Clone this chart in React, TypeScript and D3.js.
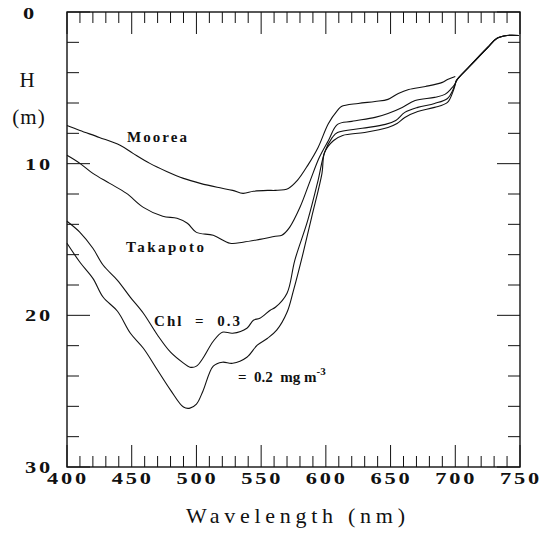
import React from 'react';
import * as d3 from 'd3';

// wavelength (nm) / depth H (m)
const mooreaWl = [400, 410, 425, 441, 451, 464, 477, 490, 503, 516, 528, 536, 544, 555, 561, 571, 578, 586, 594, 602, 609, 612, 625, 638, 648, 656, 664, 677, 690, 694, 700];
const mooreaH = [7.48, 7.81, 8.27, 8.79, 9.32, 9.98, 10.51, 10.97, 11.3, 11.56, 11.76, 11.96, 11.82, 11.76, 11.76, 11.63, 11.1, 10.11, 8.93, 7.35, 6.49, 6.23, 6.03, 5.9, 5.76, 5.37, 5.11, 4.91, 4.64, 4.45, 4.25];

const takapotoWl = [400, 410, 420, 433, 446, 459, 474, 485, 493, 500, 513, 526, 536, 549, 561, 566, 572, 580, 588, 595, 602, 609, 620, 638, 648, 659, 669, 684, 692, 697, 700];
const takapotoH = [9.45, 9.98, 10.64, 11.3, 11.96, 12.88, 13.47, 13.6, 13.93, 14.53, 14.72, 15.25, 15.18, 14.99, 14.79, 14.72, 14.2, 12.88, 11.1, 9.58, 8.47, 7.41, 7.21, 6.95, 6.69, 6.29, 5.83, 5.63, 5.43, 5.04, 4.71];

const chl03Wl = [400, 410, 420, 428, 439, 449, 459, 470, 480, 490, 495, 500, 505, 513, 520, 528, 539, 544, 549, 557, 561, 570, 576, 586, 594, 599, 605, 609, 628, 646, 654, 661, 671, 684, 694, 698, 700];
const chl03H = [13.8, 14.53, 15.58, 16.7, 17.69, 18.81, 19.86, 21.31, 22.43, 23.15, 23.42, 23.35, 22.83, 21.71, 21.11, 21.18, 20.85, 20.32, 20.19, 19.66, 19.47, 18.54, 16.37, 13.74, 11.1, 9.26, 8.27, 7.94, 7.67, 7.41, 7.15, 6.62, 6.29, 6.03, 5.7, 5.17, 4.71];

const chl02Wl = [400, 410, 420, 428, 439, 449, 459, 470, 480, 490, 495, 500, 505, 513, 520, 528, 539, 547, 555, 562, 570, 575, 582, 589, 597, 599, 606, 613, 630, 648, 655, 661, 671, 684, 694, 698, 700];
const chl02H = [15.25, 16.5, 17.56, 18.81, 19.73, 21.18, 22.17, 23.62, 24.93, 26.05, 26.12, 25.86, 25.0, 23.35, 23.09, 23.16, 22.76, 21.97, 21.51, 20.98, 19.8, 18.35, 16.04, 13.54, 10.64, 9.26, 8.47, 8.14, 7.94, 7.61, 7.35, 6.95, 6.56, 6.29, 5.96, 5.3, 4.78];

// common red end, where the three lower curves merge
const tailWl = [701, 711, 725, 732, 740, 749];
const tailH = [4.51, 3.59, 2.34, 1.75, 1.55, 1.55];

const xTickLabels = [400, 450, 500, 550, 600, 650, 700, 750];
const yTickLabels = [10, 20, 30];

const W = 550;
const H = 533;
const left = 67, right = 520, top = 12, bottom = 467;

const serif = 'Liberation Serif, Times New Roman, serif';

// wide plotter-style digits: serif bold stretched sideways
const WideText = ({ x, y, anchor = 'middle', size = 16, sx = 1.4, spacing = 2, children }: any) => (
  <text transform={`translate(${x},${y}) scale(${sx},1)`} textAnchor={anchor}
    style={{ fontFamily: serif, fontWeight: 'bold', fontSize: size, letterSpacing: spacing }} fill="#111">
    {children}
  </text>
);

const App = () => {
  const x = d3.scaleLinear().domain([400, 750]).range([left, right]);
  const y = d3.scaleLinear().domain([0, 30]).range([top, bottom]);

  const line = d3.line<[number, number]>()
    .x(d => x(d[0]))
    .y(d => y(d[1]))
    .curve(d3.curveCatmullRom.alpha(0.5));

  const zip = (a: number[], b: number[]) => a.map((v, i) => [v, b[i]] as [number, number]);
  const tail = zip(tailWl, tailH);

  const curves = [
    zip(mooreaWl, mooreaH),
    zip(takapotoWl, takapotoH).concat(tail),
    zip(chl03Wl, chl03H).concat(tail),
    zip(chl02Wl, chl02H).concat(tail),
  ];

  const xTicks = d3.range(400, 751, 10);
  const yTicks = d3.range(0, 31, 2);

  return (
    <svg width={W} height={H} style={{ position: 'absolute', left: 0, top: 0, background: '#fff' }}>
      {/* frame */}
      <rect x={left} y={top} width={right - left} height={bottom - top} fill="none" stroke="#111" strokeWidth={1.4} />

      {/* top & bottom ticks */}
      {xTicks.map(t => {
        const len = t % 50 === 0 ? 22 : 11;
        return (
          <g key={'x' + t} stroke="#111" strokeWidth={1}>
            <line x1={x(t)} x2={x(t)} y1={top} y2={top + len} />
            <line x1={x(t)} x2={x(t)} y1={bottom} y2={bottom - len} />
          </g>
        );
      })}

      {/* left & right ticks */}
      {yTicks.map(t => {
        const len = t % 10 === 0 ? 23 : 12;
        return (
          <g key={'y' + t} stroke="#111" strokeWidth={1}>
            <line x1={left} x2={left + len} y1={y(t)} y2={y(t)} />
            <line x1={right} x2={right - len} y1={y(t)} y2={y(t)} />
          </g>
        );
      })}

      {/* curves */}
      {curves.map((c, i) => (
        <path key={i} d={line(c) ?? ''} fill="none" stroke="#111" strokeWidth={1.1} strokeLinejoin="round" />
      ))}

      {/* x tick labels */}
      {xTickLabels.map(t => (
        <WideText key={'xl' + t} x={x(t) + 1} y={484}>{t}</WideText>
      ))}

      {/* y tick labels */}
      <WideText x={30} y={19}>0</WideText>
      {yTickLabels.map(t => (
        <WideText key={'yl' + t} x={53} y={y(t) + 6} anchor="end">{t}</WideText>
      ))}

      {/* axis titles */}
      <text x={27} y={87} textAnchor="middle" style={{ fontFamily: serif, fontSize: 21 }} fill="#111">H</text>
      <text x={29} y={124} textAnchor="middle" style={{ fontFamily: serif, fontSize: 21, letterSpacing: 1 }} fill="#111">(m)</text>
      <text x={186} y={523} style={{ fontFamily: serif, fontSize: 22 }} textLength={219} lengthAdjust="spacing" fill="#111">Wavelength (nm)</text>

      {/* curve labels */}
      <text x={127} y={142} style={{ fontFamily: serif, fontWeight: 'bold', fontSize: 15 }} textLength={60} lengthAdjust="spacing" fill="#111">Moorea</text>
      <text x={126} y={252} style={{ fontFamily: serif, fontWeight: 'bold', fontSize: 15 }} textLength={78} lengthAdjust="spacing" fill="#111">Takapoto</text>
      <text x={154} y={326} style={{ fontFamily: serif, fontWeight: 'bold', fontSize: 15, whiteSpace: 'pre' }} textLength={86} lengthAdjust="spacing" fill="#111">Chl  =  0.3</text>
      <text x={238} y={382} style={{ fontFamily: serif, fontWeight: 'bold', fontSize: 15, whiteSpace: 'pre' }} fill="#111">
        {'=  0.2  mg m'}
        <tspan fontSize={11} dy={-7}>-3</tspan>
      </text>
    </svg>
  );
};

export default App;
